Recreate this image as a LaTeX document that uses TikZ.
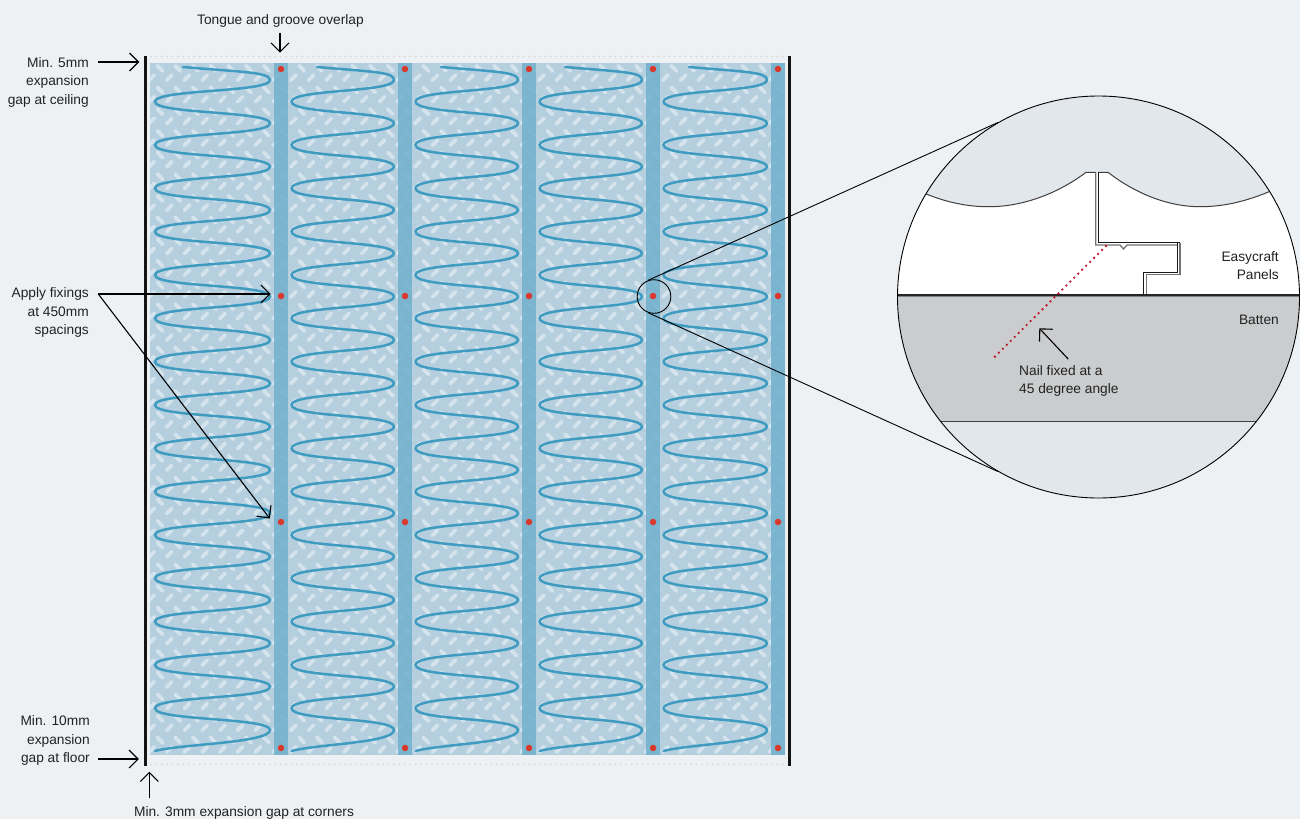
\documentclass[tikz,border=0pt]{standalone}
\usepackage{fontspec}
\setmainfont{Liberation Sans}
\usetikzlibrary{arrows.meta}
\definecolor{pagebg}{HTML}{EDF1F4}
\definecolor{panelblue}{HTML}{B5CFDF}
\definecolor{battenblue}{HTML}{72B1CD}
\definecolor{wavecol}{HTML}{3F9CC0}
\definecolor{fixred}{HTML}{D8392C}
\definecolor{nailred}{HTML}{C0172F}
\definecolor{capgrey}{HTML}{E2E7EC}
\definecolor{timber}{HTML}{CBCCCE}
\definecolor{inktext}{HTML}{222222}
\begin{document}
\begin{tikzpicture}[x=1pt,y=-1pt,
	note node/.style={inner sep=0pt,text=inktext,anchor=east,align=right,font=\fontsize{13.75}{18.5}\selectfont},
	gap arrow/.style={line width=1.1pt,-{Straight Barb[length=9pt,width=18pt,line width=1.1pt]}},
	fixing/.style={circle,fill=fixred,inner sep=0pt,minimum size=6.5pt},
	wave line/.style={draw=wavecol,line width=2.5pt,line cap=round},
	fleck/.style={draw=white,draw opacity=.42,line width=3.8pt,line cap=round},
	gap dots/.style={draw=black!15,line width=2pt,line cap=round,dash pattern=on 0pt off 5.4pt},
	edge line/.style={draw=black!75,line width=1pt},
	groove line/.style={draw=black!55,line width=1.3pt},
	tongue line/.style={draw=black!90,line width=1.1pt}]
	\useasboundingbox (0,0) rectangle (1300,819);
	\fill[pagebg] (0,0) rectangle (1300,819);

	% panels and their flecks
	\fill[panelblue] (150,62.7) rectangle (785,755);
	\begin{scope}
		\clip (150,62.7) rectangle (785,755);
		\foreach \row in {-11,...,20} {
			\foreach \col in {-1,...,35} {
				\draw[fleck] ({160+17.72*\col-2.6},{306.7+21.67*\row-2.6}) -- ++(5.2,5.2);
				\draw[fleck] ({169.3+17.72*\col-2.6},{316+21.67*\row+2.6}) -- ++(5.2,-5.2);
			}
		}
	\end{scope}

	% battens
	\foreach \bx in {274,398,522,646,771}
		\fill[battenblue,fill opacity=.88] (\bx,62.7) rectangle ++(14,692.3);

	% adhesive waves
	\foreach \wl/\wr/\ws in {155/270/183,291.5/394/317,415.5/518/441,539.5/642/565,663.5/767/689} {
		\draw[wave line] (\ws,67) .. controls ({\ws+57},72) and (\wr,72) .. (\wr,80)
			\foreach \k in {0,...,14} {
				.. controls (\wr,{92.5+43.33*\k}) and (\wl,{89.17+43.33*\k}) .. (\wl,{101.67+43.33*\k})
				.. controls (\wl,{114.17+43.33*\k}) and (\wr,{110.83+43.33*\k}) .. (\wr,{123.33+43.33*\k})
			}
			.. controls (\wr,743) and ({\wl+25},744) .. (\wl,751);
	}

	% fixings
	\foreach \fx in {281,405,529,653,778}
		\foreach \fy in {69,296,522,748}
			\node[fixing] at (\fx,\fy) (fix\fx\fy) {};

	% walls and gaps
	\fill[black!92] (144.4,55.5) rectangle (146.8,765.5);
	\fill[black!92] (788.3,55.5) rectangle (790.7,765.5);
	\draw[gap dots] (151,56.5) -- (785,56.5);
	\draw[gap dots] (151,764.3) -- (785,764.3);

	% notes on the left and top
	\node[note node] at (89,82) (ceiling) {Min. 5mm\\expansion\\gap at ceiling};
	\node[note node] at (89,312.5) (apply) {Apply fixings\\at 450mm\\spacings};
	\node[note node] at (90,740.5) (floor) {Min. 10mm\\expansion\\gap at floor};
	\node[note node,anchor=center] at (280.5,20.5) (tongue) {Tongue and groove overlap};
	\node[note node,anchor=center] at (244,812.5) (corners) {Min. 3mm expansion gap at corners};

	\coordinate (ceilingtip) at (139.3,62);
	\coordinate (floortip) at (138.8,759);
	\coordinate (tonguetip) at (280,52.7);
	\coordinate (cornertip) at (149.3,771.7);
	\coordinate (applytop) at (270.7,294);
	\coordinate (applylow) at (269.8,518.5);
	\coordinate (applytail) at (98.3,294);
	\coordinate (cornertail) at (149.3,798.3);

	\draw[gap arrow] ([xshift=9.3pt]ceiling.east |- ceilingtip) -- (ceilingtip);
	\draw[gap arrow] ([xshift=8.3pt]floor.east |- floortip) -- (floortip);
	\draw[gap arrow] (tonguetip |- 0,33) -- (tonguetip);
	\draw[gap arrow] (cornertail) -- (cornertip);
	\draw[gap arrow] (applytail) -- (applytop);
	\draw[gap arrow] (applytail) -- (applylow);

	% detail circle
	\begin{scope}
		\clip (1098.5,297) circle (201);
		\fill[capgrey] (890,90) rectangle (1305,505);
		\fill[white] (890,178) -- (915,189)
			.. controls (940,201) and (965,207) .. (990,206.7)
			.. controls (1025,206.5) and (1060,192) .. (1086,172.3)
			-- (1108,172.3)
			.. controls (1132,191) and (1165,206.7) .. (1200,206.7)
			.. controls (1225,206.7) and (1250,201) .. (1282,186)
			-- (1305,178) -- (1305,295) -- (890,295) -- cycle;
		\draw[edge line] (915,189)
			.. controls (940,201) and (965,207) .. (990,206.7)
			.. controls (1025,206.5) and (1060,192) .. (1086,172.3) -- (1095.8,172.3);
		\draw[edge line] (1098.3,172.3) -- (1108,172.3)
			.. controls (1132,191) and (1165,206.7) .. (1200,206.7)
			.. controls (1225,206.7) and (1250,201) .. (1282,186);
		\fill[timber] (890,295) rectangle (1305,421.7);
		\draw[edge line] (890,421.7) -- (1305,421.7);
		\draw[groove line] (1095.8,172.3) -- (1095.8,245) -- (1120,245) -- (1123.5,249) -- (1127,245) -- (1178,245);
		\draw[groove line] (1180,242.7) -- (1180,274.7) -- (1146.3,274.7) -- (1146.3,295);
		\draw[tongue line] (1098.3,172.3) -- (1098.3,242.7) -- (1180,242.7);
		\draw[tongue line] (1177.7,242.7) -- (1177.7,272.3) -- (1143.7,272.3) -- (1143.7,295);
		\draw[draw=black!50,line width=1pt] (890,296.2) -- (1305,296.2);
		\draw[draw=black!85,line width=1.3pt] (890,295) -- (1305,295);
		\draw[draw=nailred,line width=2.6pt,line cap=round,dash pattern=on 0pt off 5.6pt] (1106,246) -- (993,358.5);
	\end{scope}

	\node[note node] at (1279,265.5) (panels) {Easycraft\\Panels};
	\node[note node] at (1279,320) (batten) {Batten};
	\node[note node,anchor=west,align=left] at (1019,381) (nail) {Nail fixed at a\\45 degree angle};
	\coordinate (nailtip) at (1039.3,328.3);
	\draw[gap arrow] ([shift={(49.3,-6)}]nail.north west) -- (nailtip);

	% lens and leader lines
	\node[circle,draw=black,line width=.9pt,minimum size=33.6pt,inner sep=0pt] at (654,296.5) (lens) {};
	\node[circle,draw=black,line width=.9pt,minimum size=402pt,inner sep=0pt] at (1098.5,297) (detail) {};
	\draw[line width=.9pt] (lens.110) -- (detail.120.7);
	\draw[line width=.9pt] (lens.250) -- (detail.240.6);
\end{tikzpicture}
\end{document}
